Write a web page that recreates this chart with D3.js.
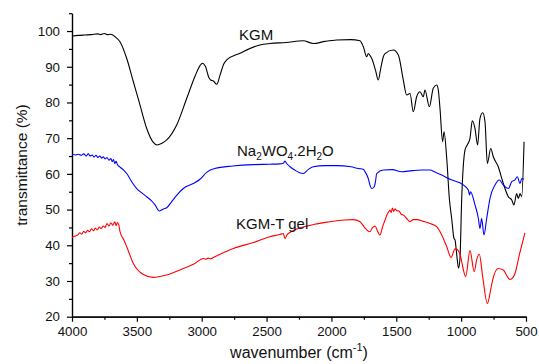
<!DOCTYPE html>
<html>
<head>
<meta charset="utf-8">
<script src="https://cdn.jsdelivr.net/npm/d3@7"></script>
<style>
  body { margin: 0; background: #fff; }
  svg { display: block; font-family: "Liberation Sans", Arial, sans-serif; }
</style>
</head>
<body>
<svg id="chart" width="539" height="364"></svg>
<script>
// spectra: [wavenumber, transmittance]
const kgm = [
  [4000,98.6],[3950,98.8],[3900,98.9],[3850,99.0],[3800,99.2],[3780,99.0],[3750,99.3],[3730,99.0],
  [3700,99.1],[3668,98.4],[3630,97],[3578,92.3],[3527,85.8],[3476,79.3],[3424,72.7],[3373,68.8],
  [3345,68.1],[3310,68.5],[3270,69.5],[3193,73.7],[3116,81.1],[3050,87.5],[3013,90.3],[2995,91],
  [2970,90],[2945,87],[2931,86.3],[2910,86],[2884,85.1],[2860,87.5],[2830,90.8],[2807,91.9],
  [2705,93.8],[2551,96.1],[2474,96.5],[2350,96.8],[2217,97.3],[2140,96.5],[2050,97.1],[1960,97.5],
  [1850,97.6],[1780,97.3],[1754,95.6],[1728,92.8],[1716,93.7],[1700,93],[1690,92.4],[1660,89],
  [1639,86.3],[1620,89.5],[1600,92.8],[1587,93.7],[1523,94.7],[1484,93.3],[1446,86.3],[1420,82.1],
  [1394,82.5],[1369,77.4],[1343,81.6],[1317,83],[1292,81.6],[1279,83.5],[1245,78.8],[1215,84],
  [1189,84.9],[1176,83.5],[1163,78.3],[1143,69],[1132,71.8],[1111,64.3],[1091,53.1],[1073,47.5],
  [1055,41.9],[1047,41.5],[1040,39.5],[1030,36],[1020,33.6],[1009,36.3],[996,52.7],[970,66.7],
  [953,68.1],[932,69.9],[914,74.9],[893,72.7],[873,68.1],[855,75.5],[834,77.1],[816,74.6],
  [798,62.9],[772,67.1],[752,64.8],[714,62],[675,57.3],[636,53.6],[610,52.7],[593,51.3],
  [572,54.5],[559,53.1],[546,54.5],[533,53.6],[515,69]
];
const tungstate = [
  [4000,65.5],[3970,65.3],[3950,65.5],[3930,65.2],[3910,65.6],[3890,65.0],[3875,65.7],[3861,65.0],
  [3845,65.3],[3830,64.7],[3815,65.2],[3800,64.6],[3785,65.0],[3770,64.4],[3759,64.8],[3745,64.2],
  [3730,64.6],[3715,63.8],[3700,64.3],[3690,63.4],[3680,64.0],[3670,62.9],[3660,63.5],[3650,62.6],
  [3630,61.9],[3600,61],[3578,60.1],[3540,57.8],[3501,55.9],[3460,54.6],[3424,53.6],[3390,52.6],
  [3360,51.3],[3327,49.6],[3300,50.1],[3270,50.5],[3230,52.3],[3193,54],[3142,55.9],[3065,57.3],
  [3013,58.5],[2960,60.5],[2900,61.5],[2760,62.2],[2600,62.6],[2474,62.7],[2400,62.8],[2370,63.0],
  [2358,63.6],[2345,62.9],[2319,62],[2280,61],[2250,60.4],[2217,60.1],[2180,61.2],[2140,62],
  [2050,62.3],[1960,62.3],[1850,62],[1793,61.5],[1754,61.3],[1741,60.6],[1716,58.7],[1700,56.5],
  [1690,55.9],[1670,56.4],[1660,58],[1651,60.1],[1600,61.1],[1530,61.2],[1459,60.6],[1380,60.9],
  [1304,61.1],[1240,61.1],[1202,60.5],[1163,59.9],[1086,58.5],[983,56.9],[945,55.5],[935,54.1],
  [928,55],[893,51.3],[867,47.5],[855,44.7],[842,47.5],[824,42.9],[803,47.5],[778,53.1],
  [739,56.9],[706,58.3],[675,56.9],[636,55.9],[610,57.8],[585,58.3],[567,59.2],[546,57.3],
  [533,58.7],[515,58.5]
];
const gel = [
  [4000,42.2],[3975,42.6],[3955,42.9],[3940,43.5],[3925,43.1],[3910,43.9],[3895,43.5],[3880,44.2],
  [3865,43.8],[3850,44.6],[3835,44.1],[3820,44.8],[3805,44.3],[3790,45.1],[3775,44.7],[3760,45.4],
  [3745,45.0],[3730,46.1],[3715,45.4],[3700,46.3],[3685,45.6],[3670,46.6],[3660,45.5],[3650,46.4],
  [3640,45.8],[3630,43.8],[3600,41.5],[3578,39.6],[3527,34.9],[3450,31.8],[3373,31],[3270,31.7],
  [3142,33.5],[3050,35],[2988,36.3],[2970,36.1],[2950,36.4],[2930,36.2],[2911,36.6],[2859,37.5],
  [2756,39.1],[2600,40.8],[2474,42.4],[2400,43],[2371,43.3],[2358,41.9],[2345,42.7],[2333,43.3],
  [2152,45.7],[2011,46.6],[1900,47.1],[1831,47.2],[1780,46.6],[1740,44.8],[1728,44.3],[1703,43.8],
  [1685,44.9],[1664,45.4],[1645,44],[1626,42.9],[1605,45.2],[1587,47.1],[1570,48.7],[1560,49.3],
  [1549,49.9],[1540,49.2],[1530,50.4],[1520,49.5],[1510,50.2],[1497,49.7],[1480,49.6],[1460,48.6],
  [1446,48.5],[1420,47.5],[1394,46.6],[1370,47.2],[1343,47.2],[1290,46.7],[1240,46.1],[1189,45.2],
  [1150,42.9],[1111,39.6],[1078,36.6],[1047,39],[1030,38.8],[1005,37],[985,33.5],[965,31.2],
  [932,38.5],[899,32.6],[880,36],[860,37.5],[834,31.2],[798,23.7],[770,28],[757,30.3],
  [714,33.5],[675,33.1],[640,31],[624,30.4],[600,31],[585,32.1],[550,37.5],[508,43.5]
];

const xMajor = [4000, 3500, 3000, 2500, 2000, 1500, 1000, 500];
const xMinor = [3750, 3250, 2750, 2250, 1750, 1250, 750];
const yMajor = [20, 30, 40, 50, 60, 70, 80, 90, 100];
const yMinor = [25, 35, 45, 55, 65, 75, 85, 95, 105];

const svg = d3.select('#chart');

const x = d3.scaleLinear().domain([4000, 500]).range([72, 526]);
const y = d3.scaleLinear().domain([20, 105]).range([316.7, 13.2]);

// minor ticks first, then the labelled axes on top
svg.append('g')
  .attr('transform', 'translate(0,316.7)')
  .call(d3.axisBottom(x).tickValues(xMinor).tickSize(3).tickSizeOuter(0).tickFormat(''));
svg.append('g')
  .attr('transform', 'translate(72,0)')
  .call(d3.axisLeft(y).tickValues(yMinor).tickSize(3).tickSizeOuter(0).tickFormat(''));

svg.append('g')
  .attr('transform', 'translate(0,316.7)')
  .call(d3.axisBottom(x).tickValues(xMajor).tickSize(5).tickSizeOuter(0).tickPadding(5).tickFormat(d3.format('d')));
svg.append('g')
  .attr('transform', 'translate(72,0)')
  .call(d3.axisLeft(y).tickValues(yMajor).tickSize(5).tickSizeOuter(0).tickPadding(7).tickFormat(d3.format('d')));

svg.selectAll('.tick line, .domain').attr('stroke', '#000').attr('stroke-width', 1.2);
svg.selectAll('.tick text')
  .attr('fill', '#111')
  .attr('font-size', 13.3)
  .attr('font-family', '"Liberation Sans", Arial, sans-serif');

const line = d3.line()
  .x(d => x(d[0]))
  .y(d => y(d[1]))
  .curve(d3.curveMonotoneX);

svg.append('path').datum(kgm)
  .attr('fill', 'none').attr('stroke', '#000').attr('stroke-width', 1.1).attr('d', line);
svg.append('path').datum(tungstate)
  .attr('fill', 'none').attr('stroke', '#0000ff').attr('stroke-width', 1.1).attr('d', line);
svg.append('path').datum(gel)
  .attr('fill', 'none').attr('stroke', '#ff0000').attr('stroke-width', 1.1).attr('d', line);

// curve labels
const lab = svg.append('g').attr('font-size', 15).attr('fill', '#111');
lab.append('text').attr('x', 239).attr('y', 40).text('KGM');

const na = lab.append('text').attr('x', 237).attr('y', 156);
let low = false;
[['Na', 0], ['2', 1], ['WO', 0], ['4', 1], ['.2H', 0], ['2', 1], ['O', 0]].forEach(p => {
  const sub = p[1] === 1;
  na.append('tspan')
    .attr('font-size', sub ? 10 : 15)
    .attr('dy', sub === low ? 0 : (sub ? 4 : -4))
    .text(p[0]);
  low = sub;
});

lab.append('text').attr('x', 236).attr('y', 229).text('KGM-T gel');

// axis titles
const xt = svg.append('text')
  .attr('x', 299).attr('y', 358)
  .attr('text-anchor', 'middle')
  .attr('font-size', 16).attr('fill', '#111');
xt.append('tspan').text('wavenumber (cm');
xt.append('tspan').attr('font-size', 11).attr('dy', -7).text('-1');
xt.append('tspan').attr('dy', 7).text(')');

svg.append('text')
  .attr('transform', 'translate(27,165) rotate(-90)')
  .attr('text-anchor', 'middle')
  .attr('font-size', 15.5).attr('fill', '#111')
  .text('transmittance (%)');
</script>
</body>
</html>
